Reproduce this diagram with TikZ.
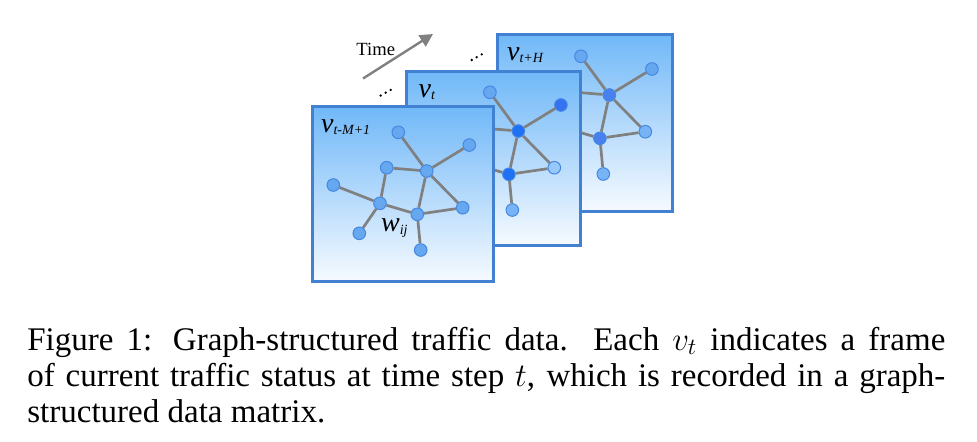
\documentclass[tikz,border=0pt]{standalone}
\usepackage{fix-cm}
\usepackage{fontspec}
\setmainfont{Liberation Serif}
\usetikzlibrary{arrows.meta}
\definecolor{framecol}{RGB}{66,128,210}
\definecolor{frametop}{RGB}{112,184,248}
\definecolor{framebot}{RGB}{246,250,255}
\definecolor{edgecol}{RGB}{128,128,128}
\definecolor{nodefill}{RGB}{102,168,240}
\definecolor{nodeline}{RGB}{70,135,225}
\definecolor{hubdark}{RGB}{30,112,245}
\definecolor{hubmid}{RGB}{72,128,240}
\definecolor{leaflight}{RGB}{150,200,250}
\definecolor{leafdark}{RGB}{52,114,242}
\definecolor{leafsoft}{RGB}{118,180,246}
\newcommand{\capfont}{\fontsize{16.5}{18}\selectfont}
\newcommand{\labfont}{\fontsize{14}{15}\selectfont\itshape}
\newcommand{\subfont}{\fontsize{7}{7.5}\selectfont\itshape}
\tikzset{
  gframe/.style={rectangle, draw=framecol, line width=1.5pt, top color=frametop, bottom color=framebot, inner sep=0pt},
  gnode/.style={circle, draw=nodeline, line width=0.5pt, fill=nodefill, minimum size=6.3pt, inner sep=0pt},
  gedge/.style={draw=edgecol, line width=1.35pt},
  lab/.style={anchor=base west, inner sep=0pt, font=\labfont},
  captext/.style={anchor=base west, inner sep=0pt, font=\capfont},
  timearrow/.style={draw=edgecol, line width=1.2pt, -{Triangle[length=6.5pt,width=6.5pt]}},
  dotmark/.style={fill=black}
}
% #1 prefix, #2 fill of n2, #3 fill of n4, #4 fill of n7, #5 fill of n8, #6 fill of n10
\newcommand{\graphnodes}[6]{%
  \node[gnode] (#1n1) at (398.3,132.3) {};
  \node[gnode, fill=#2] (#1n2) at (469.3,145) {};
  \node[gnode] (#1n3) at (386.7,167.7) {};
  \node[gnode, fill=#3] (#1n4) at (426.7,171) {};
  \node[gnode] (#1n5) at (333.3,185) {};
  \node[gnode] (#1n6) at (380,203.3) {};
  \node[gnode, fill=#4] (#1n7) at (462.7,207.7) {};
  \node[gnode, fill=#5] (#1n8) at (417.3,214.3) {};
  \node[gnode] (#1n9) at (359.3,233.3) {};
  \node[gnode, fill=#6] (#1n10) at (420.7,250) {};
  \draw[gedge] (#1n1) -- (#1n4);
  \draw[gedge] (#1n2) -- (#1n4);
  \draw[gedge] (#1n3) -- (#1n4);
  \draw[gedge] (#1n3) -- (#1n6);
  \draw[gedge] (#1n5) -- (#1n6);
  \draw[gedge] (#1n6) -- (#1n8);
  \draw[gedge] (#1n6) -- (#1n9);
  \draw[gedge] (#1n4) -- (#1n8);
  \draw[gedge] (#1n4) -- (#1n7);
  \draw[gedge] (#1n7) -- (#1n8);
  \draw[gedge] (#1n8) -- (#1n10);
}
\begin{document}
\begin{tikzpicture}[x=0.5pt,y=-0.5pt]
\useasboundingbox (0,0) rectangle (977,441);

% back frame
\node[gframe, minimum width=87.5pt, minimum height=88.5pt] (F3) at (584.5,122.5) {};
\begin{scope}[shift={(182.6,-76)}]
  \graphnodes{c}{nodefill}{hubmid}{leafsoft}{hubmid}{leafsoft}
\end{scope}
\node[lab] (L3) at (506.7,60) {v\raisebox{-1pt}{\subfont t+H}};

% middle frame
\node[gframe, minimum width=87pt, minimum height=87pt] (F2) at (493,158) {};
\begin{scope}[shift={(91.6,-40)}]
  \graphnodes{b}{leafdark}{hubdark}{leaflight}{hubdark}{leafsoft}
\end{scope}
\node[lab] (L2) at (418.3,97.3) {v\raisebox{-1pt}{\subfont t}};

% front frame
\node[gframe, minimum width=90.5pt, minimum height=87.5pt] (F1) at (402.5,193.5) {};
\graphnodes{a}{nodefill}{nodefill}{nodefill}{nodefill}{nodefill}
\node[lab] (L1) at (320.7,132) {v\raisebox{-1pt}{\subfont t-M+1}};
\node[lab] (W) at (380.7,231.7) {w\raisebox{-1.3pt}{\subfont ij}};

% time arrow and dots
\coordinate (ta) at (363,78.5);
\coordinate (tb) at (433,34);
\draw[timearrow] (ta) -- (tb);
\node[anchor=base west, inner sep=0pt, font=\fontsize{9.3}{10}\selectfont] (T) at (356,55) {Time};
\foreach \p in {(380.7,95.5),(385.7,92.7),(390.7,89.9),(471.7,60),(476.7,57.2),(481.7,54.4)}
  \fill[dotmark] \p circle (0.65pt);

% caption
\node[captext] (C1) at (27,350) {\makebox[459pt][s]{Figure 1: Graph-structured traffic data. Each $v_t$ indicates a frame}};
\node[captext] (C2) at (27,386) {\makebox[459pt][s]{of current traffic status at time step $t$, which is recorded in a graph-}};
\node[captext] (C3) at (27,422) {structured data matrix.};
\end{tikzpicture}
\end{document}
